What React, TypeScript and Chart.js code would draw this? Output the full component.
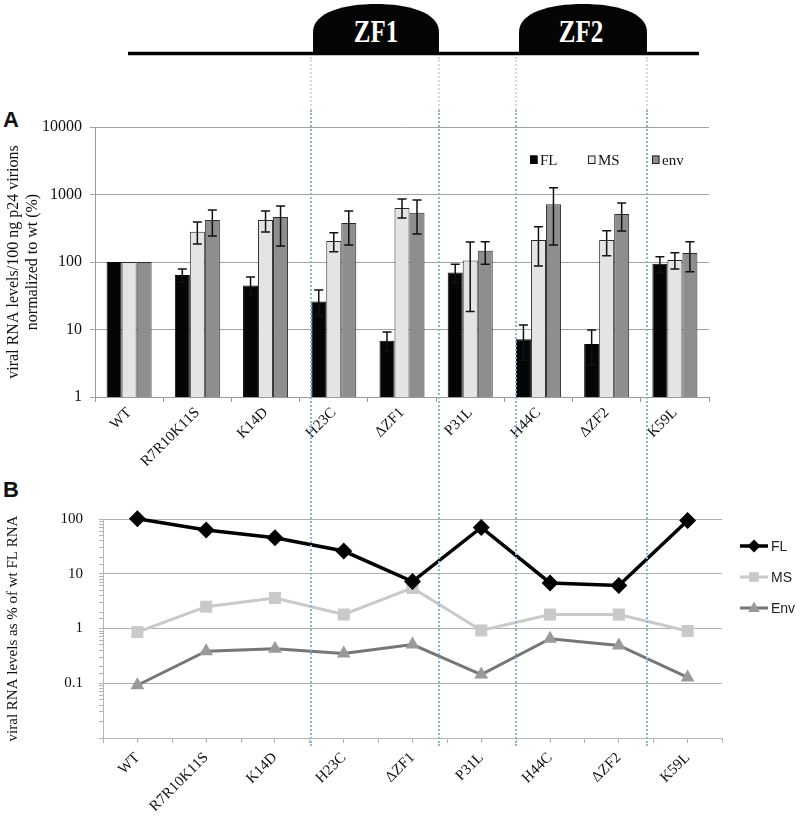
import React, { useEffect, useRef } from "react";
import { Chart, registerables } from "chart.js";

Chart.register(...registerables);

// ---------- data ----------
const categories = ["WT", "R7R10K11S", "K14D", "H23C", "\u0394ZF1", "P31L", "H44C", "\u0394ZF2", "K59L"];

// Panel A (bars, % of wt)
const flValues = [100, 64, 45, 26, 6.8, 70, 7.2, 6.1, 94];
const msValues = [100, 281, 420, 205, 630, 105, 212, 212, 107];
const envValues = [100, 420, 464, 378, 537, 147, 716, 514, 136];
const flUpper = [null, 79, 60, 38.5, 9.2, 93, 11.7, 9.8, 120];
const flLower = [null, 50, 33, 16, 4.8, 50, 3.5, 3, 70];
const msUpper = [null, 390, 570, 272, 860, 198, 333, 291, 137];
const msLower = [null, 185, 278, 142, 450, 18.4, 87, 124, 79];
const envUpper = [null, 590, 676, 570, 830, 200, 1260, 748, 200];
const envLower = [null, 243, 172, 178, 260, 93, 178, 288, 72];

// Panel B (lines, % of wt FL RNA)
const flRatio = [101, 63, 45.5, 26, 7.2, 70, 6.8, 6.1, 94];
const msRatio = [0.86, 2.5, 3.6, 1.8, 5.5, 0.92, 1.8, 1.8, 0.9];
const envRatio = [0.092, 0.385, 0.425, 0.35, 0.51, 0.144, 0.65, 0.49, 0.128];

const seriesNamesA = ["FL", "MS", "env"];
const seriesNamesB = ["FL", "MS", "Env"];

// ---------- helpers ----------
const isMajor = (v: number) => {
  const l = Math.log10(v);
  return Math.abs(l - Math.round(l)) < 1e-6;
};
const fmtLog = (v: number) => {
  const e = Math.round(Math.log10(v));
  return e >= 0 ? String(Math.pow(10, e)) : Math.pow(10, e).toFixed(-e);
};
const SERIF = "'Liberation Serif', 'Times New Roman', serif";
const SANS = "'Liberation Sans', Arial, sans-serif";

const errorBarPlugin = {
  id: "errorBars",
  afterDatasetsDraw(chart: any) {
    const ctx = chart.ctx;
    const yScale = chart.scales.y;
    const ups = [flUpper, msUpper, envUpper];
    const los = [flLower, msLower, envLower];
    ctx.save();
    ctx.strokeStyle = "#111";
    ctx.lineWidth = 1.5;
    chart.data.datasets.forEach((_ds: any, di: number) => {
      const meta = chart.getDatasetMeta(di);
      meta.data.forEach((bar: any, i: number) => {
        const u = ups[di][i];
        const l = los[di][i];
        if (u == null || l == null) return;
        const x = bar.x;
        const yu = yScale.getPixelForValue(u);
        const yl = yScale.getPixelForValue(l);
        ctx.beginPath();
        ctx.moveTo(x, yu);
        ctx.lineTo(x, yl);
        ctx.moveTo(x - 4.5, yu);
        ctx.lineTo(x + 4.5, yu);
        ctx.moveTo(x - 4.5, yl);
        ctx.lineTo(x + 4.5, yl);
        ctx.stroke();
      });
    });
    ctx.restore();
  },
};

const legendAPlugin = {
  id: "legendA",
  afterDraw(chart: any) {
    const ctx = chart.ctx;
    const items = [
      { x: 530, fill: "#050505", stroke: "#050505", label: seriesNamesA[0] },
      { x: 588, fill: "#ececec", stroke: "#222", label: seriesNamesA[1] },
      { x: 652, fill: "#8e8e8e", stroke: "#222", label: seriesNamesA[2] },
    ];
    const y = 60; // canvas-relative (canvas top = 100)
    ctx.save();
    ctx.font = `15px ${SERIF}`;
    ctx.textBaseline = "middle";
    items.forEach((it) => {
      ctx.fillStyle = it.fill;
      ctx.fillRect(it.x, y - 4.5, 7.5, 8.5);
      ctx.strokeStyle = it.stroke;
      ctx.lineWidth = 1;
      ctx.strokeRect(it.x + 0.5, y - 4, 6.5, 7.5);
      ctx.fillStyle = "#111";
      ctx.fillText(it.label, it.x + 10, y + 1);
    });
    ctx.restore();
  },
};

function drawMarker(ctx: any, type: string, x: number, y: number, r: number, color: string) {
  ctx.fillStyle = color;
  ctx.beginPath();
  if (type === "diamond") {
    ctx.moveTo(x, y - r);
    ctx.lineTo(x + r, y);
    ctx.lineTo(x, y + r);
    ctx.lineTo(x - r, y);
  } else if (type === "square") {
    ctx.rect(x - r * 0.75, y - r * 0.75, r * 1.5, r * 1.5);
  } else {
    ctx.moveTo(x, y - r);
    ctx.lineTo(x + r * 0.9, y + r * 0.6);
    ctx.lineTo(x - r * 0.9, y + r * 0.6);
  }
  ctx.closePath();
  ctx.fill();
}

const legendBPlugin = {
  id: "legendB",
  afterDraw(chart: any) {
    const ctx = chart.ctx;
    const items = [
      { y: 66, line: "#000", mark: "#000", type: "diamond", label: seriesNamesB[0], w: 3.5 },
      { y: 97, line: "#c9c9c9", mark: "#c9c9c9", type: "square", label: seriesNamesB[1], w: 3 },
      { y: 128, line: "#767676", mark: "#9a9a9a", type: "triangle", label: seriesNamesB[2], w: 3 },
    ];
    ctx.save();
    ctx.font = `14px ${SANS}`;
    ctx.textBaseline = "middle";
    items.forEach((it) => {
      ctx.strokeStyle = it.line;
      ctx.lineWidth = it.w;
      ctx.beginPath();
      ctx.moveTo(740, it.y);
      ctx.lineTo(768, it.y);
      ctx.stroke();
      drawMarker(ctx, it.type, 754, it.y, 6.5, it.mark);
      ctx.fillStyle = "#222";
      ctx.fillText(it.label, 771, it.y + 1);
    });
    ctx.restore();
  },
};

const boundaryTicksPlugin = {
  id: "boundaryTicks",
  afterDraw(chart: any) {
    const x = chart.scales.x;
    const ctx = chart.ctx;
    const n = chart.data.labels.length;
    const left = chart.chartArea.left;
    const right = chart.chartArea.right;
    const bottom = chart.chartArea.bottom;
    ctx.save();
    ctx.strokeStyle = "#b5b5b5";
    ctx.lineWidth = 1;
    for (let i = 0; i <= n; i++) {
      const px = Math.round(left + (i * (right - left)) / n) + 0.5;
      ctx.beginPath();
      ctx.moveTo(px, bottom);
      ctx.lineTo(px, bottom + 5);
      ctx.stroke();
    }
    ctx.restore();
    void x;
  },
};

export default function App() {
  const refA = useRef<HTMLCanvasElement>(null);
  const refB = useRef<HTMLCanvasElement>(null);

  useEffect(() => {
    const chartA = new Chart(refA.current as HTMLCanvasElement, {
      type: "bar",
      data: {
        labels: categories,
        datasets: [
          { label: seriesNamesA[0], data: flValues, backgroundColor: "#050505", borderColor: "#050505", borderWidth: 1 },
          { label: seriesNamesA[1], data: msValues, backgroundColor: "#e4e4e4", borderColor: "#2a2a2a", borderWidth: 1 },
          { label: seriesNamesA[2], data: envValues, backgroundColor: "#8e8e8e", borderColor: "#2a2a2a", borderWidth: 1 },
        ],
      },
      options: {
        responsive: false,
        animation: false,
        layout: { padding: { top: 27, right: 91, left: 0, bottom: 0 } },
        datasets: { bar: { categoryPercentage: 0.66, barPercentage: 1.0 } },
        plugins: { legend: { display: false }, tooltip: { enabled: false } },
        scales: {
          x: {
            offset: true,
            grid: { offset: true, drawOnChartArea: false, tickLength: 5, color: "#9a9a9a" },
            border: { color: "#9a9a9a" },
            ticks: {
              minRotation: 45,
              maxRotation: 45,
              autoSkip: false,
              padding: 2,
              color: "#111",
              font: { family: SERIF, size: 15 },
            },
            afterFit: (s: any) => {
              s.height = 83;
            },
          },
          y: {
            type: "logarithmic",
            min: 1,
            max: 10000,
            border: { color: "#9a9a9a" },
            grid: {
              color: (c: any) => (c.tick && isMajor(c.tick.value) ? "#a3a3a3" : "rgba(0,0,0,0)"),
              tickColor: (c: any) => (c.tick && isMajor(c.tick.value) ? "#a3a3a3" : "rgba(0,0,0,0)"),
              tickLength: 5,
              lineWidth: 1,
            },
            ticks: {
              autoSkip: false,
              padding: 8,
              color: "#111",
              font: { family: SERIF, size: 16 },
              callback: (v: any) => (isMajor(Number(v)) ? fmtLog(Number(v)) : ""),
            },
            title: {
              display: true,
              text: ["viral RNA levels/100 ng p24 virions", "normalized to wt (%)"],
              color: "#111",
              font: { family: SERIF, size: 16, lineHeight: 1.2 },
              padding: { top: 4, bottom: 4 },
            },
            afterFit: (s: any) => {
              s.width = 95;
            },
          },
        },
      },
      plugins: [errorBarPlugin, legendAPlugin],
    } as any);

    const chartB = new Chart(refB.current as HTMLCanvasElement, {
      type: "line",
      data: {
        labels: categories,
        datasets: [
          {
            label: seriesNamesB[0],
            data: flRatio,
            borderColor: "#000",
            backgroundColor: "#000",
            borderWidth: 3.5,
            pointStyle: "rectRot",
            pointRadius: 8.5,
            pointBorderWidth: 0,
            clip: false,
            order: 1,
          },
          {
            label: seriesNamesB[1],
            data: msRatio,
            borderColor: "#c9c9c9",
            backgroundColor: "#c9c9c9",
            borderWidth: 3,
            pointStyle: "rect",
            pointRadius: 8.5,
            pointBorderWidth: 0,
            clip: false,
            order: 2,
          },
          {
            label: seriesNamesB[2],
            data: envRatio,
            borderColor: "#767676",
            backgroundColor: "#9a9a9a",
            borderWidth: 3,
            pointStyle: "triangle",
            pointRadius: 8,
            pointBorderWidth: 0,
            clip: false,
            order: 3,
          },
        ],
      },
      options: {
        responsive: false,
        animation: false,
        layout: { padding: { top: 39, right: 78, left: 0, bottom: 0 } },
        plugins: { legend: { display: false }, tooltip: { enabled: false } },
        scales: {
          x: {
            offset: true,
            grid: { offset: false, drawOnChartArea: false, tickLength: 5, color: "#b5b5b5" },
            border: { color: "#b5b5b5" },
            ticks: {
              minRotation: 45,
              maxRotation: 45,
              autoSkip: false,
              padding: 6,
              color: "#111",
              font: { family: SERIF, size: 15 },
            },
            afterFit: (s: any) => {
              s.height = 80;
            },
          },
          y: {
            type: "logarithmic",
            min: 0.01,
            max: 100,
            border: { color: "#b5b5b5" },
            grid: {
              color: (c: any) =>
                c.tick && isMajor(c.tick.value) && c.tick.value > 0.011 ? "#b0b0b0" : "rgba(0,0,0,0)",
              tickColor: "#b5b5b5",
              tickLength: 4,
              lineWidth: 1,
            },
            ticks: {
              autoSkip: false,
              padding: 16,
              color: "#111",
              font: { family: SERIF, size: 15 },
              callback: (v: any) => {
                const n = Number(v);
                return isMajor(n) && n > 0.011 ? fmtLog(n) : "";
              },
            },
            title: {
              display: true,
              text: "viral RNA levels as % of wt FL RNA",
              color: "#111",
              font: { family: SERIF, size: 15, lineHeight: 1.2 },
              padding: { top: 4, bottom: 4 },
            },
            afterFit: (s: any) => {
              s.width = 103;
            },
          },
        },
      },
      plugins: [legendBPlugin, boundaryTicksPlugin],
    } as any);

    return () => {
      chartA.destroy();
      chartB.destroy();
    };
  }, []);

  const dotX = [311, 439, 516, 647];

  return (
    <div style={{ position: "absolute", left: 0, top: 0, width: 800, height: 818, background: "#fff", overflow: "hidden" }}>
      <svg width={800} height={60} style={{ position: "absolute", left: 0, top: 0 }}>
        <line x1={128} y1={53.5} x2={699} y2={53.5} stroke="#000" strokeWidth={3.5} />
        <path d="M313,55 L313,32 C313,12 345,4 376,4 C407,4 439,12 439,32 L439,55 Z" fill="#050505" />
        <path d="M519,55 L519,32 C519,12 551,4 583,4 C615,4 647,12 647,32 L647,55 Z" fill="#050505" />
        <text
          transform="translate(376,42) scale(1,1.25)"
          textAnchor="middle"
          fill="#fff"
          fontFamily={SERIF}
          fontWeight="bold"
          fontSize={25}
        >
          ZF1
        </text>
        <text
          transform="translate(581,42) scale(1,1.25)"
          textAnchor="middle"
          fill="#fff"
          fontFamily={SERIF}
          fontWeight="bold"
          fontSize={25}
        >
          ZF2
        </text>
      </svg>
      <div
        style={{
          position: "absolute",
          left: 3,
          top: 109,
          fontFamily: SANS,
          fontWeight: "bold",
          fontSize: 22,
          lineHeight: "22px",
          color: "#111",
        }}
      >
        A
      </div>
      <div
        style={{
          position: "absolute",
          left: 3,
          top: 479,
          fontFamily: SANS,
          fontWeight: "bold",
          fontSize: 22,
          lineHeight: "22px",
          color: "#111",
        }}
      >
        B
      </div>
      <canvas ref={refA} width={800} height={380} style={{ position: "absolute", left: 0, top: 100 }} />
      <canvas ref={refB} width={800} height={338} style={{ position: "absolute", left: 0, top: 480 }} />
      {dotX.map((x, i) => (
        <React.Fragment key={i}>
          <div
            style={{
              position: "absolute",
              left: x - 1,
              top: 57,
              height: 53,
              width: 0,
              borderLeft: "2px dotted #d8d8d8",
              pointerEvents: "none",
            }}
          />
          <div
            style={{
              position: "absolute",
              left: x - 1,
              top: 110,
              height: 636,
              width: 0,
              borderLeft: "2px dotted #8fb4d6",
              pointerEvents: "none",
            }}
          />
        </React.Fragment>
      ))}
    </div>
  );
}
